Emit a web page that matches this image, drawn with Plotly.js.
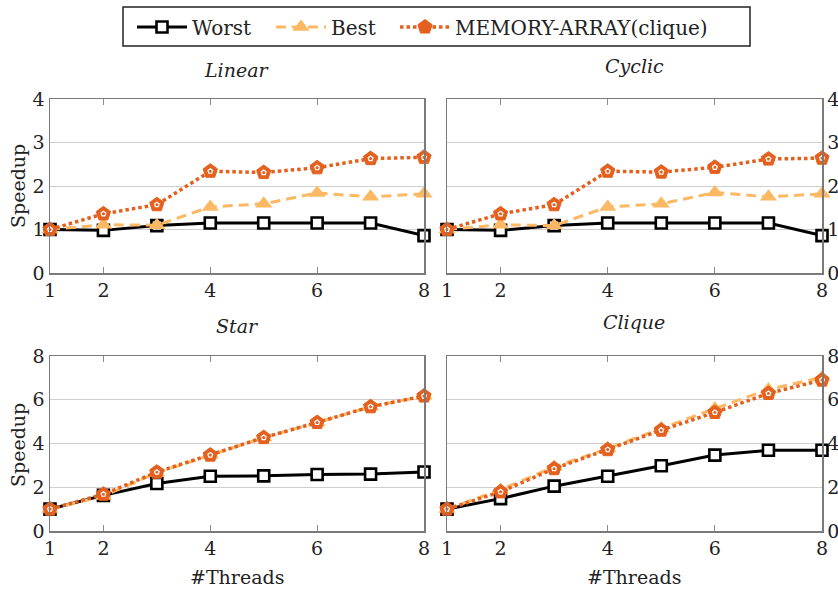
<!DOCTYPE html>
<html>
<head>
<meta charset="utf-8">
<script src="https://cdn.plot.ly/plotly-3.0.1.min.js"></script>
<style>
  html, body { margin: 0; padding: 0; background: #fff; }
  #chart { width: 838px; height: 593px; }
</style>
</head>
<body>
<div id="chart"></div>
<script>
// Thread counts on the x axis
const threads = [1, 2, 3, 4, 5, 6, 7, 8];
const xTicks = [1, 2, 4, 6, 8];

// Speedup per topology
const linearWorst  = [1.00, 0.98, 1.09, 1.15, 1.15, 1.15, 1.15, 0.86];
const linearBest   = [1.00, 1.11, 1.10, 1.52, 1.59, 1.84, 1.75, 1.82];
const linearMemory = [1.00, 1.36, 1.57, 2.34, 2.31, 2.42, 2.63, 2.66];

const cyclicWorst  = [1.00, 0.98, 1.09, 1.15, 1.15, 1.15, 1.15, 0.86];
const cyclicBest   = [1.00, 1.11, 1.09, 1.52, 1.59, 1.85, 1.75, 1.82];
const cyclicMemory = [1.00, 1.36, 1.57, 2.34, 2.32, 2.43, 2.62, 2.64];

const starWorst  = [1.00, 1.63, 2.17, 2.50, 2.52, 2.58, 2.60, 2.70];
const starBest   = [1.00, 1.60, 2.66, 3.47, 4.27, 4.96, 5.68, 6.17];
const starMemory = [1.00, 1.68, 2.69, 3.47, 4.27, 4.96, 5.68, 6.17];

const cliqueWorst  = [1.00, 1.48, 2.05, 2.50, 2.98, 3.47, 3.69, 3.69];
const cliqueBest   = [1.00, 1.89, 2.93, 3.77, 4.69, 5.60, 6.47, 7.02];
const cliqueMemory = [1.00, 1.79, 2.85, 3.72, 4.61, 5.42, 6.29, 6.90];

const panelTitles = ['Linear', 'Cyclic', 'Star', 'Clique'];
const seriesNames = ['Worst', 'Best', 'MEMORY-ARRAY(clique)'];

const panels = [
  [linearWorst, linearBest, linearMemory],
  [cyclicWorst, cyclicBest, cyclicMemory],
  [starWorst, starBest, starMemory],
  [cliqueWorst, cliqueBest, cliqueMemory]
];

const serif = 'DejaVu Serif';
const textColor = '#222222';
const black = '#000000';
const lightOrange = '#fdb863';
const darkOrange = '#e4601e';

const styles = [
  { line: { color: black, width: 3, dash: 'solid' },
    marker: { symbol: 'square', size: 11, color: '#ffffff', line: { color: black, width: 2.6 } } },
  { line: { color: lightOrange, width: 3, dash: '10px,6px' },
    marker: { symbol: 'triangle-up', size: 15, color: lightOrange, line: { color: lightOrange, width: 0 } } },
  { line: { color: darkOrange, width: 3.5, dash: '3.5px,3px' },
    marker: { symbol: 'pentagon', size: 15, color: darkOrange, line: { color: darkOrange, width: 1 } } }
];
const legendIds = ['legend', 'legend2', 'legend3'];

const W = 838, H = 593;
const traces = [];
const insets = [];
panels.forEach((series, p) => {
  const suffix = p === 0 ? '' : String(p + 1);
  series.forEach((ys, s) => {
    traces.push({
      type: 'scatter',
      mode: 'lines+markers',
      x: threads,
      y: ys,
      name: seriesNames[s],
      legend: legendIds[s],
      showlegend: p === 0,
      xaxis: 'x' + suffix,
      yaxis: 'y' + suffix,
      line: styles[s].line,
      marker: styles[s].marker,
      cliponaxis: false,
      hoverinfo: 'skip'
    });
  });
  // small white inner mark of the pentagon markers
  insets.push({
    type: 'scatter', mode: 'markers', x: threads, y: series[2],
    xaxis: 'x' + suffix, yaxis: 'y' + suffix, showlegend: false,
    marker: { symbol: 'pentagon-open', size: 5, color: '#ffffff', line: { color: '#ffffff', width: 1.2 } },
    cliponaxis: false, hoverinfo: 'skip'
  });
});

// Plot area bounds in paper units
const colX = [[50 / W, 424 / W], [447 / W, 822 / W]];
const rowY = [[1 - 273 / H, 1 - 99 / H], [1 - 531 / H, 1 - 356 / H]];

const tickFont = { family: serif, size: 19, color: textColor };

function xAxis(col, anchor) {
  return {
    domain: colX[col], anchor: anchor,
    range: [1, 8], tickvals: xTicks, ticktext: xTicks.map(String),
    showgrid: false, zeroline: false,
    showline: true, linecolor: '#7a7a7a', linewidth: 1.5, mirror: 'ticks',
    ticks: 'inside', ticklen: 6, tickcolor: '#8a8a8a', tickwidth: 1,
    tickfont: tickFont, fixedrange: true
  };
}
function yAxis(col, row, anchor, max, step) {
  return {
    domain: rowY[row], anchor: anchor, side: col === 0 ? 'left' : 'right',
    range: [0, max], dtick: step, tick0: 0,
    showgrid: true, gridcolor: '#cfcfcf', gridwidth: 1, zeroline: false,
    showline: true, linecolor: '#7a7a7a', linewidth: 1.5, mirror: true,
    ticks: '', tickfont: tickFont, fixedrange: true
  };
}

const labelFont = { family: serif, size: 19, color: textColor };
const titlePos = [[237, 70], [634, 66], [237, 326], [634, 322]];
const annotations = panelTitles.map((t, i) => ({
  text: '<i>' + t + '</i>', xref: 'paper', yref: 'paper',
  x: titlePos[i][0] / W, y: 1 - titlePos[i][1] / H,
  xanchor: 'center', yanchor: 'middle', showarrow: false,
  font: labelFont
}));
[[18, 186], [18, 445]].forEach(pos => annotations.push({
  text: 'Speedup', xref: 'paper', yref: 'paper', textangle: -90,
  x: pos[0] / W, y: 1 - pos[1] / H, xanchor: 'center', yanchor: 'middle',
  showarrow: false, font: labelFont
}));
[[237, 577], [634, 577]].forEach(pos => annotations.push({
  text: '#Threads', xref: 'paper', yref: 'paper',
  x: pos[0] / W, y: 1 - pos[1] / H, xanchor: 'center', yanchor: 'middle',
  showarrow: false, font: labelFont
}));

// One legend per series, laid out in a row inside a shared frame
function legendAt(px) {
  return {
    orientation: 'h', x: px / W, y: 1 - 27 / H, xanchor: 'left', yanchor: 'middle',
    borderwidth: 0, bgcolor: 'rgba(0,0,0,0)',
    font: { family: serif, size: 20, color: textColor },
    itemwidth: 50
  };
}

const layout = {
  width: W, height: H,
  margin: { l: 0, r: 0, t: 0, b: 0 },
  font: { family: serif, size: 19, color: textColor },
  paper_bgcolor: '#ffffff', plot_bgcolor: '#ffffff',
  showlegend: true,
  legend: legendAt(132),
  legend2: legendAt(271),
  legend3: legendAt(395),
  shapes: [{
    type: 'rect', xref: 'paper', yref: 'paper',
    x0: 123 / W, x1: 750 / W, y0: 1 - 46 / H, y1: 1 - 7 / H,
    line: { color: '#222', width: 1.5 }, fillcolor: 'rgba(0,0,0,0)', layer: 'below'
  }],
  xaxis:  xAxis(0, 'y'),
  xaxis2: xAxis(1, 'y2'),
  xaxis3: xAxis(0, 'y3'),
  xaxis4: xAxis(1, 'y4'),
  yaxis:  yAxis(0, 0, 'x', 4, 1),
  yaxis2: yAxis(1, 0, 'x2', 4, 1),
  yaxis3: yAxis(0, 1, 'x3', 8, 2),
  yaxis4: yAxis(1, 1, 'x4', 8, 2),
  annotations: annotations
};

Plotly.newPlot('chart', traces.concat(insets), layout, { displayModeBar: false, staticPlot: true });
</script>
</body>
</html>
